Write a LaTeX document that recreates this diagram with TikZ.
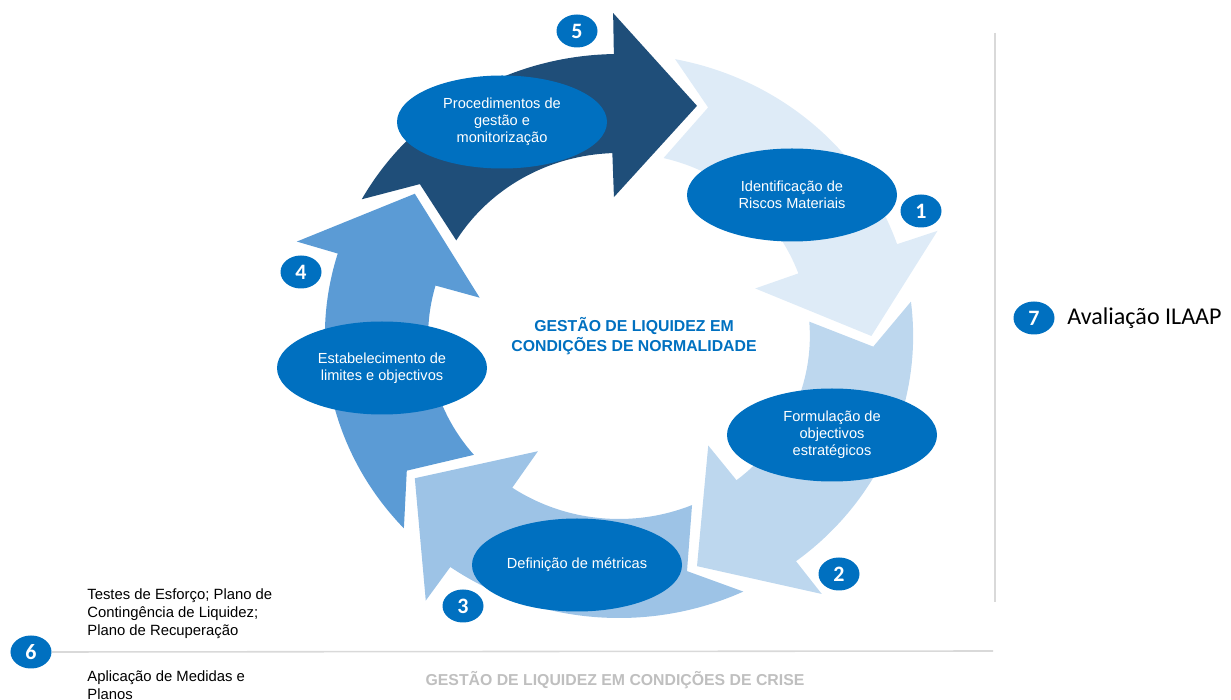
\documentclass[tikz,border=0pt]{standalone}
\usepackage{fontspec}
\setmainfont{Liberation Sans}
\newfontfamily\carlito{Carlito}
\usepackage{tikz}
\usetikzlibrary{shapes.geometric}
\definecolor{stepA}{HTML}{DEEBF7}
\definecolor{stepB}{HTML}{BDD7EE}
\definecolor{stepC}{HTML}{9DC3E6}
\definecolor{stepD}{HTML}{5B9BD5}
\definecolor{stepE}{HTML}{1F4E79}
\definecolor{accent}{HTML}{0070C0}
\definecolor{rule}{HTML}{D9D9D9}
\definecolor{faded}{HTML}{BFBFBF}
\tikzset{
  phase/.style={ellipse, fill=accent, text=white, minimum width=4.2cm, minimum height=1.86cm,
    inner sep=0pt, align=center, font=\fontsize{8.3}{9.8}\selectfont},
  badge/.style={ellipse, fill=accent, text=white, minimum width=0.82cm, minimum height=0.66cm,
    inner sep=0pt, font=\carlito\bfseries\fontsize{12.5}{12.5}\selectfont},
  title/.style={text=accent, align=center, font=\bfseries\fontsize{9}{11.3}\selectfont},
  note/.style={anchor=west, align=left, inner sep=0pt, font=\fontsize{8.45}{10.2}\selectfont},
  divider/.style={draw=rule, line width=0.9pt}
}

\begin{document}
\begin{tikzpicture}
  \useasboundingbox (0,0) rectangle (24.62,14);
  \coordinate (C) at (12.38,7.28);

  % five curved arrows round the cycle (tail angle / colour)
  \begin{scope}[shift={(C)}, xscale=1.043]
    \foreach \t/\c in {151/stepE, 79/stepA, 7/stepB, -65/stepC, -137/stepD}
      \fill[\c] (\t:5.64) arc[start angle=\t, end angle=\t-60, radius=5.64]
        -- (\t-60:6.46) -- (\t-79:4.84) -- (\t-59:2.78) -- (\t-59:3.66)
        arc[start angle=\t-59, end angle=\t-2.5, radius=3.66]
        -- (\t-9.5:4.88) -- cycle;
  \end{scope}

  % steps
  \node[phase] (E1) at (15.84,10.10) {Identificação de\\Riscos Materiais};
  \node[phase] (E2) at (16.64,5.30) {Formulação de\\objectivos\\estratégicos};
  \node[phase] (E3) at (11.54,2.70) {Definição de métricas};
  \node[phase] (E4) at (7.64,6.64) {Estabelecimento de\\limites e objectivos};
  \node[phase] (E5) at (10.04,11.56) {Procedimentos de\\gestão e\\monitorização};

  \node[title] (core) at (12.68,7.28) {GESTÃO DE LIQUIDEZ EM\\CONDIÇÕES DE NORMALIDADE};

  % numbered badges
  \node[badge] (B1) at (18.42,9.78) {1};
  \node[badge] (B2) at (16.78,2.52) {2};
  \node[badge] (B3) at (9.26,1.88) {3};
  \node[badge] (B4) at (6.02,8.56) {4};
  \node[badge] (B5) at (11.54,13.38) {5};
  \node[badge] (B6) at (0.62,0.96) {6};
  \node[badge] (B7) at (20.68,7.64) {7};

  \node[anchor=west, inner sep=0pt, font=\carlito\fontsize{13.7}{14}\selectfont] (ilaap) at (21.34,7.64) {Avaliação ILAAP};

  % crisis band below the cycle
  \coordinate (sepR) at (19.86,0.98);
  \coordinate (vTop) at (19.9,13.34);
  \coordinate (vBot) at (19.9,1.96);
  \draw[divider] (B6.east) -- (sepR);
  \draw[divider] (vTop) -- (vBot);

  \node[note] (tests) at (1.74,1.73) {Testes de Esforço; Plano de\\Contingência de Liquidez;\\Plano de Recuperação};
  \node[note] (apply) at (1.74,0.30) {Aplicação de Medidas e\\Planos};
  \node[title, text=faded] (crisis) at (12.3,0.40) {GESTÃO DE LIQUIDEZ EM CONDIÇÕES DE CRISE};
\end{tikzpicture}
\end{document}
